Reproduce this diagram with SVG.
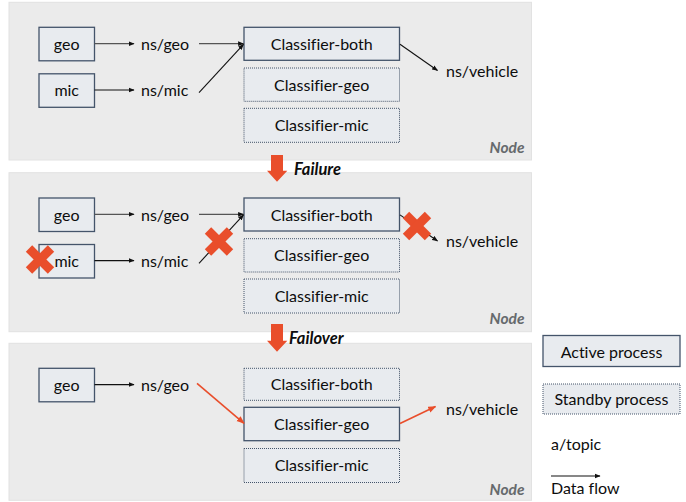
<svg xmlns="http://www.w3.org/2000/svg" width="686" height="502" viewBox="0 0 686 502">
<defs>
<style>
.panel{fill:#ebebeb;stroke:#e2e2e2;stroke-width:1}
.act{fill:#e8ebef;stroke:#44546a;stroke-width:1.3}
.stb{fill:#e8ebef;stroke:#44546a;stroke-width:1;stroke-dasharray:1 1}
text{font-variant-ligatures:none}
.t{font-family:Lato,"Noto Sans",sans-serif;font-size:16px;fill:#0d0d0d}
.c{text-anchor:middle}
.node{font-family:Lato,"Noto Sans",sans-serif;font-size:15.5px;font-weight:bold;font-style:italic;fill:#666a6d;text-anchor:end}
.lab{font-family:Lato,"Noto Sans",sans-serif;font-size:16.5px;font-weight:bold;font-style:italic;fill:#0d0d0d}
.k{fill:none;stroke:#111;stroke-width:1.1;marker-end:url(#ah)}
.g{fill:none;stroke:#555;stroke-width:1.3;marker-end:url(#ah)}
.o{fill:none;stroke:#e94e2b;stroke-width:1.6;marker-end:url(#ao)}
.x{stroke:#e94e2b;stroke-width:9}
.big{fill:#e94e2b}
</style>
<marker id="ah" viewBox="0 0 10 10" refX="9" refY="5" markerWidth="6" markerHeight="6" markerUnits="userSpaceOnUse" orient="auto"><path d="M0,1 L10,5 L0,9 z" fill="#111"/></marker>
<marker id="ao" viewBox="0 0 10 10" refX="9" refY="5" markerWidth="8" markerHeight="8" markerUnits="userSpaceOnUse" orient="auto"><path d="M0,1 L10,5 L0,9 z" fill="#e94e2b"/></marker>
<g id="xmark"><line x1="-11" y1="-11" x2="11" y2="11"/><line x1="-11" y1="11" x2="11" y2="-11"/></g>
</defs>

<g id="panel1">
<rect class="panel" x="9" y="2.3" width="522.5" height="157.7"/>
<text class="node" x="524.5" y="152.5">Node</text>
</g>
<g id="panel2">
<rect class="panel" x="9" y="172.7" width="522.5" height="159"/>
<text class="node" x="524.5" y="323.5">Node</text>
</g>
<g id="panel3">
<rect class="panel" x="9" y="343.3" width="522.5" height="157"/>
<text class="node" x="524.5" y="494.5">Node</text>
</g>

<!-- Panel 1 nodes -->
<g id="p1-geo"><rect class="act" x="39" y="27.3" width="55.5" height="33.5"/><text class="t c" x="66.7" y="49.8">geo</text></g>
<g id="p1-mic"><rect class="act" x="39" y="73.8" width="55.5" height="33.5"/><text class="t c" x="66.7" y="96.3">mic</text></g>
<g id="p1-nsgeo"><text class="t" x="141" y="49.8">ns/geo</text></g>
<g id="p1-nsmic"><text class="t" x="141" y="96.3">ns/mic</text></g>
<g id="p1-both"><rect class="act" x="244" y="27.3" width="155.5" height="33"/><text class="t c" x="321.7" y="49.8">Classifier-both</text></g>
<g id="p1-cgeo"><rect class="stb" x="244" y="68" width="155.5" height="33.3"/><text class="t c" x="321.7" y="90.6">Classifier-geo</text></g>
<g id="p1-cmic"><rect class="stb" x="244" y="108.3" width="155.5" height="34"/><text class="t c" x="321.7" y="131.2">Classifier-mic</text></g>
<g id="p1-nsveh"><text class="t" x="446" y="76.5">ns/vehicle</text></g>

<!-- Panel 2 nodes -->
<g id="p2-geo"><rect class="act" x="39" y="198" width="55.5" height="33.5"/><text class="t c" x="66.7" y="220.5">geo</text></g>
<g id="p2-mic"><rect class="act" x="39" y="244.5" width="55.5" height="33.5"/><text class="t c" x="66.7" y="267">mic</text></g>
<g id="p2-nsgeo"><text class="t" x="141" y="220.5">ns/geo</text></g>
<g id="p2-nsmic"><text class="t" x="141" y="267">ns/mic</text></g>
<g id="p2-both"><rect class="act" x="244" y="198" width="155.5" height="33"/><text class="t c" x="321.7" y="220.5">Classifier-both</text></g>
<g id="p2-cgeo"><rect class="stb" x="244" y="238.7" width="155.5" height="33.3"/><text class="t c" x="321.7" y="261.3">Classifier-geo</text></g>
<g id="p2-cmic"><rect class="stb" x="244" y="279" width="155.5" height="34"/><text class="t c" x="321.7" y="301.9">Classifier-mic</text></g>
<g id="p2-nsveh"><text class="t" x="446" y="246.5">ns/vehicle</text></g>

<!-- Panel 3 nodes -->
<g id="p3-geo"><rect class="act" x="39" y="368.3" width="55.5" height="33.5"/><text class="t c" x="66.7" y="390.8">geo</text></g>
<g id="p3-nsgeo"><text class="t" x="141" y="390.8">ns/geo</text></g>
<g id="p3-both"><rect class="stb" x="244" y="368.3" width="155.5" height="32"/><text class="t c" x="321.7" y="390.3">Classifier-both</text></g>
<g id="p3-cgeo"><rect class="act" x="244" y="407.3" width="155.5" height="33.4"/><text class="t c" x="321.7" y="430">Classifier-geo</text></g>
<g id="p3-cmic"><rect class="stb" x="244" y="448.5" width="155.5" height="34"/><text class="t c" x="321.7" y="471.4">Classifier-mic</text></g>
<g id="p3-nsveh"><text class="t" x="446" y="414.5">ns/vehicle</text></g>

<!-- Transitions -->
<g id="failure"><path class="big" d="M271,155 H283 V170.7 H287.3 L277,181.7 L267,170.7 H271 Z"/><text class="lab" x="294" y="175">Failure</text></g>
<g id="failover"><path class="big" d="M271,324 H283 V340.7 H287.3 L277,351.7 L267,340.7 H271 Z"/><text class="lab" x="289" y="344">Failover</text></g>

<!-- Legend -->
<g id="legend-active"><rect class="act" x="543" y="335.5" width="137" height="31"/><text class="t c" x="611.5" y="357.5">Active process</text></g>
<g id="legend-standby"><rect class="stb" x="543" y="384" width="137" height="30"/><text class="t c" x="611.5" y="405">Standby process</text></g>
<g id="legend-topic"><text class="t" x="551" y="450">a/topic</text></g>
<g id="legend-flow"><text class="t" x="551" y="494">Data flow</text></g>

<g id="connectors">
<line class="g" x1="94.5" y1="43.7" x2="134" y2="43.7"/>
<line class="k" x1="94.5" y1="90" x2="134" y2="90"/>
<line class="g" x1="199" y1="43.7" x2="243.5" y2="43.7"/>
<line class="k" x1="199" y1="92.7" x2="243.5" y2="44.3"/>
<line class="k" x1="400" y1="44.3" x2="437.5" y2="70.5"/>

<line class="g" x1="94.5" y1="214.3" x2="134" y2="214.3"/>
<line class="k" x1="94.5" y1="260.6" x2="134" y2="260.6"/>
<line class="g" x1="199" y1="214.3" x2="243.5" y2="214.3"/>
<line class="k" x1="199" y1="263.3" x2="243.5" y2="214.9"/>
<line class="k" x1="400" y1="214.9" x2="437.5" y2="241"/>

<line class="k" x1="94.5" y1="384.6" x2="134" y2="384.6"/>
<line class="o" x1="197" y1="383.3" x2="244" y2="423.3"/>
<line class="o" x1="400" y1="423.5" x2="435.5" y2="406.5"/>

<line class="k" x1="551" y1="476" x2="600" y2="476"/>
</g>

<g id="failures">
<use href="#xmark" class="x" x="40" y="259.5"/>
<use href="#xmark" class="x" x="219" y="241.5"/>
<use href="#xmark" class="x" x="417" y="226"/>
</g>
</svg>
